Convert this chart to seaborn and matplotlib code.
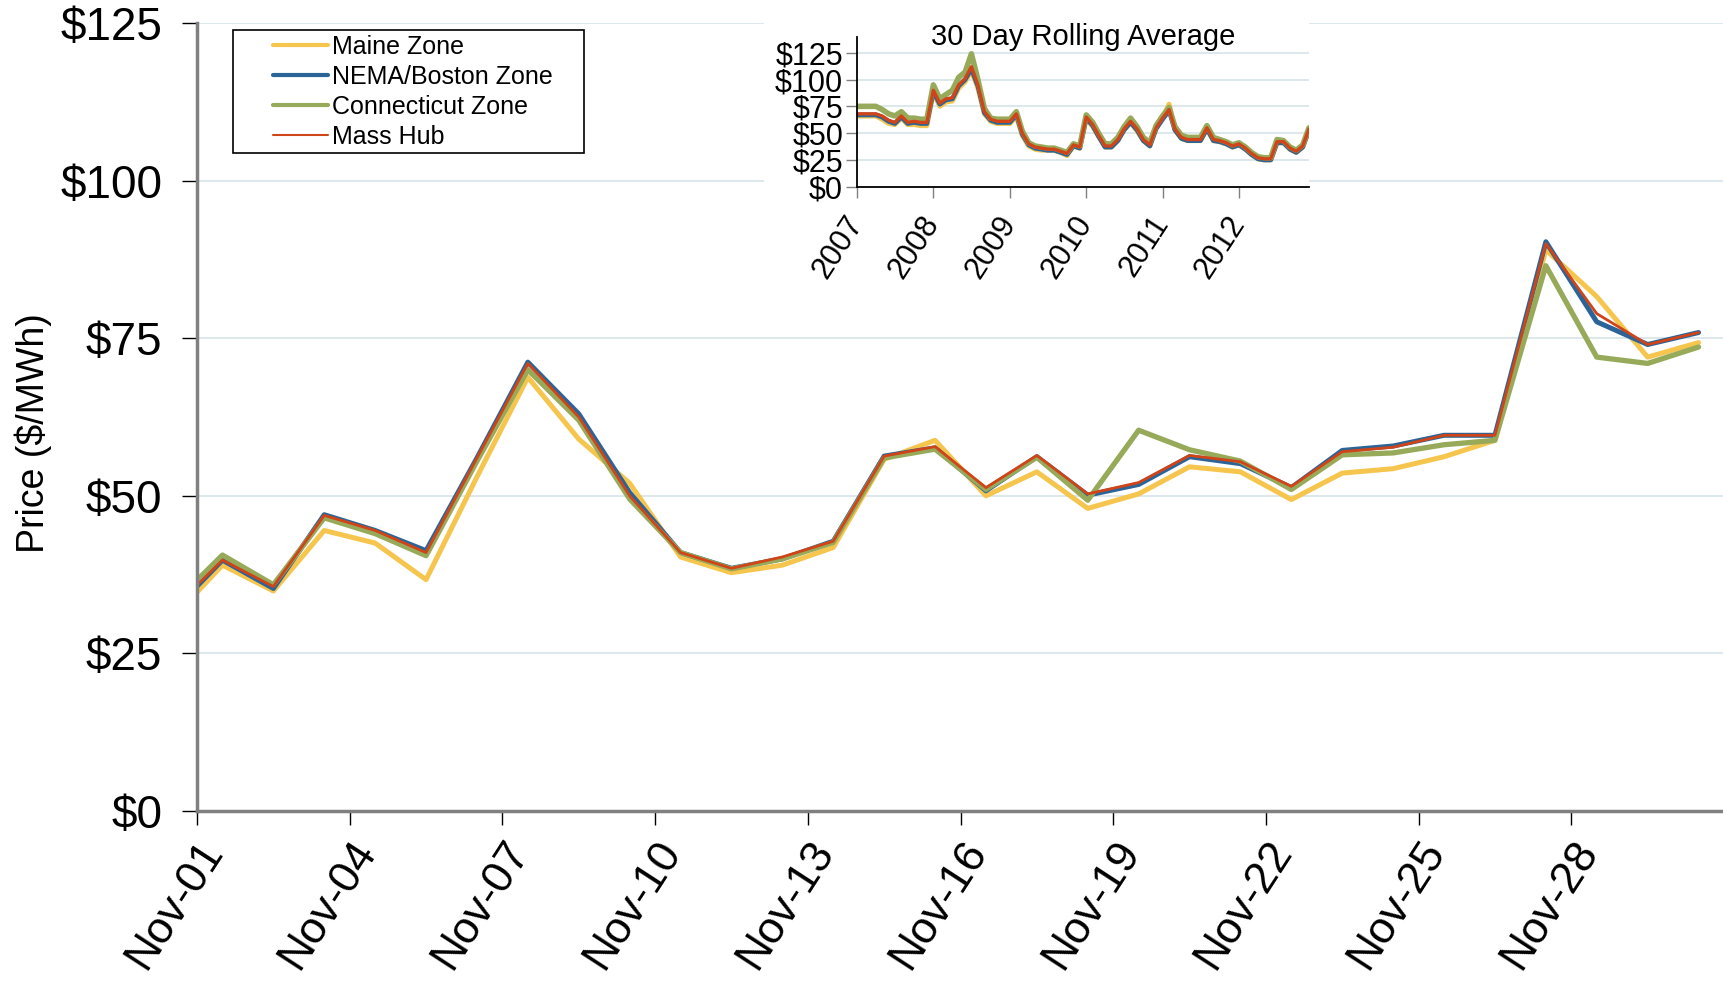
"""
ISO-NE day-ahead prices, November 2012, with a 30 day rolling average inset.
"""
import pandas as pd
import matplotlib
matplotlib.use('Agg')
import matplotlib.pyplot as plt
import matplotlib.dates as mdates
from matplotlib.patches import Rectangle
from matplotlib.ticker import FuncFormatter, MultipleLocator
from matplotlib.legend_handler import HandlerLine2D
import seaborn as sns

zones = ['Maine Zone', 'NEMA/Boston Zone', 'Connecticut Zone', 'Mass Hub']
colors = ['#F5C54E', '#2B6497', '#97AA59', '#CF4419']
widths = [3.6, 3.6, 3.8, 2.0]

# daily prices, Oct-31 .. Nov-30 (points sit at noon of each day)
days = pd.date_range('2012-10-31 12:00', '2012-11-30 12:00', freq='D')
maine = [30.4, 39.0, 34.9, 44.5, 42.5, 36.7, 53.0, 68.8, 59.0, 52.0, 40.3, 37.8, 39.0, 41.8, 55.8, 58.8,
         50.0, 53.8, 48.0, 50.3, 54.6, 53.8, 49.4, 53.6, 54.3, 56.2, 58.8, 89.0, 81.6, 72.0, 74.3]
nema = [31.5, 39.8, 35.3, 47.0, 44.5, 41.3, 56.0, 71.2, 63.0, 50.5, 41.0, 38.5, 40.0, 42.8, 56.3, 57.6,
        50.8, 56.2, 50.1, 51.8, 56.2, 55.1, 51.3, 57.2, 57.9, 59.6, 59.6, 90.3, 77.6, 74.0, 75.9]
ct = [32.6, 40.6, 35.9, 46.5, 44.0, 40.5, 55.5, 70.0, 62.0, 49.5, 41.0, 38.4, 40.0, 42.6, 56.0, 57.4,
      51.0, 56.1, 49.3, 60.4, 57.3, 55.5, 51.0, 56.5, 56.8, 58.1, 58.8, 86.5, 72.0, 71.0, 73.6]
mass = [31.8, 39.8, 35.6, 46.9, 44.5, 41.0, 56.0, 71.0, 62.5, 50.0, 41.0, 38.5, 40.3, 42.8, 56.3, 57.8,
        51.3, 56.4, 50.3, 52.1, 56.4, 55.4, 51.5, 57.0, 57.7, 59.6, 59.6, 90.0, 78.9, 74.0, 75.9]
tick_days = pd.date_range('2012-11-01', '2012-11-28', freq='3D')

# 30 day rolling average, read monthly, Jan 2007 .. Dec 2012
months = pd.date_range('2007-01-01', periods=72, freq='MS')
maine_roll = [66, 66, 66, 66, 63, 59, 58, 64, 58, 58, 57, 57,
              88, 75, 79, 80, 92, 98, 108, 92, 68, 61, 59, 59,
              59, 66, 48, 38, 35, 34, 34, 34, 32, 29, 38, 36,
              64, 56, 47, 37, 37, 43, 53, 60, 52, 43, 38, 55,
              64, 77, 53, 45, 43, 43, 43, 54, 43, 42, 40, 37,
              39, 35, 30, 26, 25, 25, 41, 41, 35, 32, 37, 53]
nema_roll = [67, 67, 67, 67, 65, 61, 59, 65, 59, 60, 59, 59,
             89, 77, 81, 82, 94, 100, 110, 94, 69, 62, 60, 60,
             60, 67, 49, 39, 36, 35, 34, 34, 32, 30, 38, 36,
             64, 57, 47, 37, 37, 43, 53, 60, 53, 43, 38, 54,
             63, 71, 53, 45, 43, 43, 43, 54, 43, 42, 40, 37,
             39, 35, 30, 26, 25, 25, 41, 41, 35, 32, 37, 53]
ct_roll = [75, 75, 75, 75, 72, 68, 66, 70, 64, 64, 63, 63,
           95, 82, 86, 90, 102, 107, 124, 100, 73, 64, 63, 63,
           63, 70, 52, 41, 38, 37, 36, 36, 34, 32, 40, 38,
           67, 60, 50, 40, 40, 46, 56, 64, 56, 46, 41, 57,
           66, 74, 56, 48, 46, 46, 46, 57, 46, 44, 42, 39,
           41, 37, 32, 28, 27, 27, 44, 43, 37, 34, 39, 55]
mass_roll = [68, 68, 68, 68, 66, 62, 60, 66, 60, 61, 60, 60,
             90, 78, 82, 83, 95, 101, 112, 95, 70, 63, 61, 61,
             61, 68, 50, 40, 37, 36, 35, 35, 33, 31, 39, 37,
             65, 58, 48, 38, 38, 44, 54, 61, 54, 44, 39, 55,
             64, 72, 54, 46, 44, 44, 44, 55, 44, 43, 41, 38,
             40, 36, 31, 27, 26, 26, 42, 42, 36, 33, 38, 54]

daily = pd.DataFrame({'date': days, zones[0]: maine, zones[1]: nema, zones[2]: ct, zones[3]: mass})
daily = daily.melt(id_vars='date', var_name='zone', value_name='price')
rolling = pd.DataFrame({'date': months, zones[0]: maine_roll, zones[1]: nema_roll,
                        zones[2]: ct_roll, zones[3]: mass_roll})
rolling = rolling.melt(id_vars='date', var_name='zone', value_name='price')

sns.set_style('white')
plt.rcParams['font.family'] = ['Liberation Sans', 'DejaVu Sans']
plt.rcParams['text.color'] = 'black'
plt.rcParams['axes.labelcolor'] = 'black'
plt.rcParams['xtick.color'] = 'black'
plt.rcParams['ytick.color'] = 'black'

W, H = 1724, 985
fig = plt.figure(figsize=(W / 100, H / 100), dpi=100)
ax = fig.add_axes([197 / W, 1 - 811 / H, 1 - 197 / W, (811 - 23) / H])

for zone, c, lw in zip(zones, colors, widths):
    sns.lineplot(data=daily[daily['zone'] == zone], x='date', y='price', color=c,
                 linewidth=lw, label=zone, ax=ax)

dollar = FuncFormatter(lambda v, p: f'${v:.0f}')
ax.set_ylim(0, 125)
ax.yaxis.set_major_locator(MultipleLocator(25))
ax.yaxis.set_major_formatter(dollar)
ax.set_xlim(pd.Timestamp('2012-11-01'), pd.Timestamp('2012-12-01'))
ax.set_xticks(tick_days)
ax.xaxis.set_major_formatter(mdates.DateFormatter('%b-%d'))
ax.grid(axis='y', color='#d9e6ea', linewidth=1.3)
ax.grid(axis='x', visible=False)
for s in ['top', 'right']:
    ax.spines[s].set_visible(False)
for s in ['left', 'bottom']:
    ax.spines[s].set_color('#808080')
    ax.spines[s].set_linewidth(2.5)
ax.tick_params(axis='y', which='major', left=True, length=11, width=1, color='black',
               labelcolor='black', labelsize=33, pad=14)
ax.tick_params(axis='x', which='major', bottom=True, length=10, width=1, color='black',
               labelcolor='black', labelsize=32, pad=6)
plt.setp(ax.get_xticklabels(), rotation=57, ha='right', rotation_mode='anchor')
ax.set_xlabel('')
ax.set_ylabel('Price ($/MWh)', fontsize=27)
ax.yaxis.set_label_coords(-0.095, 0.48)

# Excel-like legend box: wide left margin before the line samples
leg = ax.legend(loc='upper left', bbox_to_anchor=(233 / W, 1 - 155 / H, 351 / W, 125 / H),
                bbox_transform=fig.transFigure, mode='expand',
                borderaxespad=0, fontsize=18, frameon=True, fancybox=False, framealpha=1,
                handlelength=3.62, handletextpad=0.15, labelspacing=0.24, borderpad=0.18,
                handler_map={plt.Line2D: HandlerLine2D(xpad=1.42)})
leg.get_frame().set_edgecolor('black')
leg.get_frame().set_linewidth(1.2)
for h in leg.get_lines():
    h.set_linewidth(3)
leg.get_lines()[3].set_linewidth(1.5)

# white patch behind the inset, hides main gridlines there
fig.patches.append(Rectangle((764 / W, 1 - 200 / H), (1309 - 764) / W, 200 / H,
                             transform=fig.transFigure, facecolor='white', edgecolor='none', zorder=0.5))

ax_in = fig.add_axes([857 / W, 1 - 186.7 / H, (1309 - 857) / W, (186.7 - 36.7) / H])
ax_in.set_zorder(2)
for zone, c, lw in zip(zones, colors, [3.6, 3.4, 4.0, 2.4]):
    sns.lineplot(data=rolling[rolling['zone'] == zone], x='date', y='price', color=c,
                 linewidth=lw, ax=ax_in, legend=False)
ax_in.set_ylim(0, 140)
ax_in.set_yticks(range(0, 126, 25))
ax_in.yaxis.set_major_formatter(dollar)
ax_in.set_xlim(pd.Timestamp('2007-01-01'), pd.Timestamp('2012-12-01'))
ax_in.xaxis.set_major_locator(mdates.YearLocator())
ax_in.xaxis.set_major_formatter(mdates.DateFormatter('%Y'))
ax_in.grid(axis='y', color='#d9e6ea', linewidth=1.3)
ax_in.grid(axis='x', visible=False)
for s in ['top', 'right']:
    ax_in.spines[s].set_visible(False)
for s in ['left', 'bottom']:
    ax_in.spines[s].set_color('black')
    ax_in.spines[s].set_linewidth(1.3)
ax_in.tick_params(axis='y', which='major', left=True, length=8, width=1, color='#808080',
                  labelcolor='black', labelsize=22, pad=2)
ax_in.tick_params(axis='x', which='major', bottom=True, length=8, width=1, color='#808080',
                  labelcolor='black', labelsize=22, pad=15)
plt.setp(ax_in.get_xticklabels(), rotation=57, ha='right', va='center', rotation_mode='anchor')
ax_in.set_xlabel('')
ax_in.set_ylabel('')
ax_in.text(0.5, 1.0, '30 Day Rolling Average', transform=ax_in.transAxes, ha='center', va='center',
           fontsize=21)

fig.savefig('out.png', dpi=100, facecolor='white')
